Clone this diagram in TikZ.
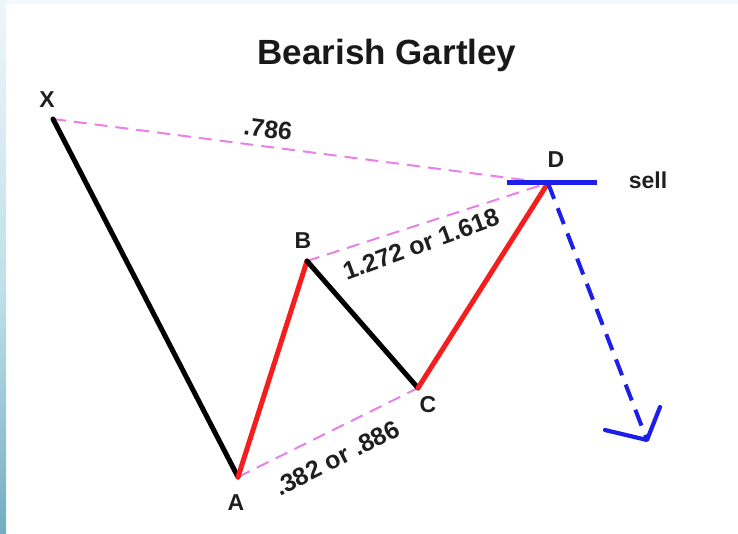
\documentclass[tikz,border=0pt]{standalone}
\usepackage{fontspec}
\setmainfont{Liberation Sans}
\definecolor{fibpink}{RGB}{232,128,232}
\definecolor{sellblue}{RGB}{30,30,235}
\definecolor{legred}{RGB}{245,30,30}
\definecolor{striptop}{RGB}{238,247,251}
\definecolor{stripmid}{RGB}{190,222,232}
\definecolor{stripbot}{RGB}{114,174,194}
\definecolor{topband}{RGB}{243,250,255}
\tikzset{
  blackleg/.style={line width=5pt, black, line cap=round, line join=round},
  redleg/.style={line width=5pt, legred, line cap=round, line join=round},
  ratio/.style={line width=2pt, fibpink, dash pattern=on 13pt off 8pt},
  ptlabel/.style={font=\fontsize{23}{25}\selectfont\bfseries, text=black!88, inner sep=0pt},
  ratiolabel/.style={font=\fontsize{25}{27}\selectfont\bfseries, text=black!88, inner sep=0pt},
}
\begin{document}
\begin{tikzpicture}[x=1pt,y=-1pt]
\useasboundingbox (0,0) rectangle (738,533);
\fill[white] (0,0) rectangle (738,533);
\fill[topband] (0,0) rectangle (738,4);
\shade[top color=striptop, bottom color=stripmid] (0,0) rectangle (6,300);
\shade[top color=stripmid, bottom color=stripbot] (0,300) rectangle (6,533);
% title
\node[font=\fontsize{35}{38}\selectfont\bfseries, text=black!90, inner sep=0pt] (title) at (387,55) {Bearish Gartley};
% points
\coordinate (X) at (53,119);
\coordinate (A) at (238,477);
\coordinate (B) at (307,261);
\coordinate (C) at (418,388);
\coordinate (D) at (548,183);
\coordinate (sellL) at (507,182);
\coordinate (sellR) at (597,182);
\coordinate (tip) at (647,440);
\coordinate (armL) at (605,430);
\coordinate (armR) at (660,407);
% ratio lines
\draw[ratio] (X) -- (D);
\draw[ratio] (B) -- (D);
\draw[ratio] (A) -- (C);
% legs
\draw[blackleg] (X) -- (A);
\draw[redleg] (A) -- (B);
\draw[blackleg] (B) -- (C);
\draw[redleg] (C) -- (D);
% sell
\draw[sellblue, line width=5pt] (sellL) -- (sellR);
\draw[sellblue, line width=4pt, dash pattern=on 17pt off 10pt] (D) -- (tip);
\draw[sellblue, line width=4.2pt, line cap=round, line join=round] (armL) -- (tip) -- (armR);
% labels
\node[ptlabel] (lX) at (47,100) {X};
\node[ptlabel] (lA) at (236,503) {A};
\node[ptlabel] (lB) at (303,241) {B};
\node[ptlabel] (lC) at (428,405) {C};
\node[ptlabel] (lD) at (556,160) {D};
\node[ptlabel] (lsell) at (648,180) {sell};
\node[ratiolabel, rotate=-7.4] (r1) at (268,129) {.786};
\node[ratiolabel, rotate=20] (r2) at (421,244) {1.272 or 1.618};
\node[ratiolabel, rotate=27] (r3) at (337,458) {.382 or .886};
\end{tikzpicture}
\end{document}
